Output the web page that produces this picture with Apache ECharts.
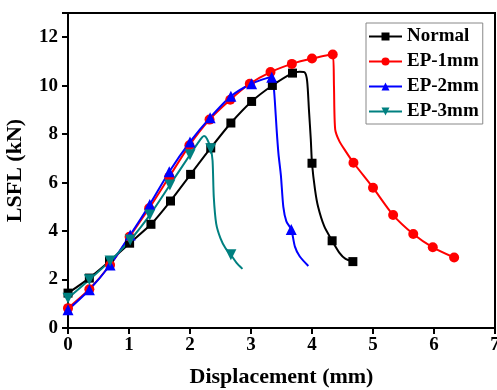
<!DOCTYPE html>
<html>
<head>
<meta charset="utf-8">
<script src="https://cdn.jsdelivr.net/npm/echarts@6/dist/echarts.min.js"></script>
<style>
html, body { margin: 0; padding: 0; background: #fff; }
#chart { width: 497px; height: 390px; }
</style>
</head>
<body>
<div id="chart"></div>
<script>
// x ticks / y ticks
const xTicks = [0, 1, 2, 3, 4, 5, 6, 7];
const yTicks = [0, 2, 4, 6, 8, 10, 12];

// Normal
const normalX = [0, 0.35, 0.68, 1.01, 1.36, 1.68, 2.01, 2.34, 2.67, 3.01, 3.35, 3.68, 3.8, 3.88, 3.92, 3.95, 3.98, 4.0, 4.05, 4.1, 4.2, 4.33, 4.45, 4.55, 4.67];
const normalY = [1.44, 2.06, 2.75, 3.5, 4.28, 5.24, 6.34, 7.43, 8.46, 9.35, 10.01, 10.52, 10.58, 10.55, 10.2, 9.0, 7.8, 6.8, 5.7, 5.0, 4.2, 3.6, 3.1, 2.85, 2.74];
const normalMarks = [0, 1, 2, 3, 4, 5, 6, 7, 8, 9, 10, 11, 17, 21, 24];

// EP-1mm
const ep1X = [0, 0.35, 0.69, 1.01, 1.33, 1.66, 1.99, 2.32, 2.66, 2.98, 3.32, 3.67, 4.0, 4.34, 4.36, 4.38, 4.45, 4.55, 4.68, 5.0, 5.33, 5.66, 5.98, 6.33];
const ep1Y = [0.82, 1.6, 2.6, 3.77, 4.94, 6.24, 7.54, 8.6, 9.42, 10.08, 10.56, 10.9, 11.12, 11.29, 10.0, 8.2, 7.7, 7.3, 6.82, 5.79, 4.66, 3.88, 3.33, 2.91];
const ep1Marks = [0, 1, 2, 3, 4, 5, 6, 7, 8, 9, 10, 11, 12, 13, 18, 19, 20, 21, 22, 23];

// EP-2mm
const ep2X = [0, 0.35, 0.69, 1.02, 1.34, 1.66, 2.0, 2.33, 2.67, 3.01, 3.34, 3.37, 3.39, 3.42, 3.45, 3.49, 3.53, 3.58, 3.66, 3.72, 3.8, 3.94];
const ep2Y = [0.75, 1.58, 2.6, 3.84, 5.1, 6.45, 7.68, 8.68, 9.56, 10.08, 10.35, 10.0, 9.4, 8.2, 7.2, 6.3, 5.0, 4.4, 4.07, 3.36, 2.95, 2.56];
const ep2Marks = [0, 1, 2, 3, 4, 5, 6, 7, 8, 9, 10, 18];

// EP-3mm
const ep3X = [0, 0.35, 0.69, 1.02, 1.34, 1.67, 2.0, 2.12, 2.23, 2.28, 2.34, 2.37, 2.39, 2.43, 2.5, 2.58, 2.67, 2.76, 2.86];
const ep3Y = [1.23, 1.99, 2.77, 3.63, 4.66, 5.9, 7.15, 7.6, 7.92, 7.8, 7.4, 6.9, 5.4, 4.3, 3.7, 3.3, 3.02, 2.7, 2.44];
const ep3Marks = [0, 1, 2, 3, 4, 5, 6, 10, 16];

const chart = echarts.init(document.getElementById('chart'));
const font = 'Liberation Serif';

function makeSeries(name, xs, ys, marks, color, symbol, size, rotate) {
  return {
    name: name,
    type: 'line',
    smooth: 0.25,
    symbol: symbol,
    symbolSize: size,
    symbolRotate: rotate || 0,
    showAllSymbol: true,
    lineStyle: { color: color, width: 2 },
    itemStyle: { color: color },
    data: xs.map((x, i) => ({
      value: [x, ys[i]],
      symbol: marks.indexOf(i) >= 0 ? symbol : 'none'
    }))
  };
}

chart.setOption({
  animation: false,
  textStyle: { fontFamily: font },
  grid: {
    left: 68, right: 2, top: 13, bottom: 62,
    outerBoundsMode: 'none',
    show: true, borderColor: '#000', borderWidth: 2
  },
  legend: {
    orient: 'vertical',
    left: 366, top: 23,
    padding: [4, 4, 3, 2],
    itemWidth: 33, itemHeight: 10, itemGap: 6,
    borderColor: '#888', borderWidth: 1,
    textStyle: { fontFamily: font, fontWeight: 'bold', fontSize: 19, color: '#000' },
    data: ['Normal', 'EP-1mm', 'EP-2mm', 'EP-3mm']
  },
  xAxis: {
    type: 'value',
    min: xTicks[0], max: xTicks[xTicks.length - 1], interval: 1,
    name: 'Displacement (mm)',
    nameLocation: 'middle', nameGap: 38,
    nameTextStyle: { fontFamily: font, fontWeight: 'bold', fontSize: 22, color: '#000' },
    axisLine: { lineStyle: { color: '#000', width: 2 } },
    axisTick: { show: true, length: 6, lineStyle: { color: '#000', width: 2 } },
    axisLabel: { fontFamily: font, fontWeight: 'bold', fontSize: 19, color: '#000', margin: 8 },
    splitLine: { show: false }
  },
  yAxis: {
    type: 'value',
    min: yTicks[0], max: 13, interval: 2,
    name: 'LSFL (kN)',
    nameLocation: 'middle', nameGap: 42,
    nameTextStyle: { fontFamily: font, fontWeight: 'bold', fontSize: 22, color: '#000' },
    axisLine: { lineStyle: { color: '#000', width: 2 } },
    axisTick: { show: true, length: 6, lineStyle: { color: '#000', width: 2 } },
    axisLabel: {
      fontFamily: font, fontWeight: 'bold', fontSize: 19, color: '#000', margin: 10,
      formatter: v => (yTicks.indexOf(v) >= 0 ? String(v) : '')
    },
    splitLine: { show: false }
  },
  series: [
    makeSeries('Normal', normalX, normalY, normalMarks, '#000000', 'rect', 9),
    makeSeries('EP-1mm', ep1X, ep1Y, ep1Marks, '#ff0000', 'circle', 10),
    makeSeries('EP-2mm', ep2X, ep2Y, ep2Marks, '#0000ff', 'triangle', 11),
    makeSeries('EP-3mm', ep3X, ep3Y, ep3Marks, '#008080', 'triangle', 11, 180)
  ]
});
</script>
</body>
</html>
